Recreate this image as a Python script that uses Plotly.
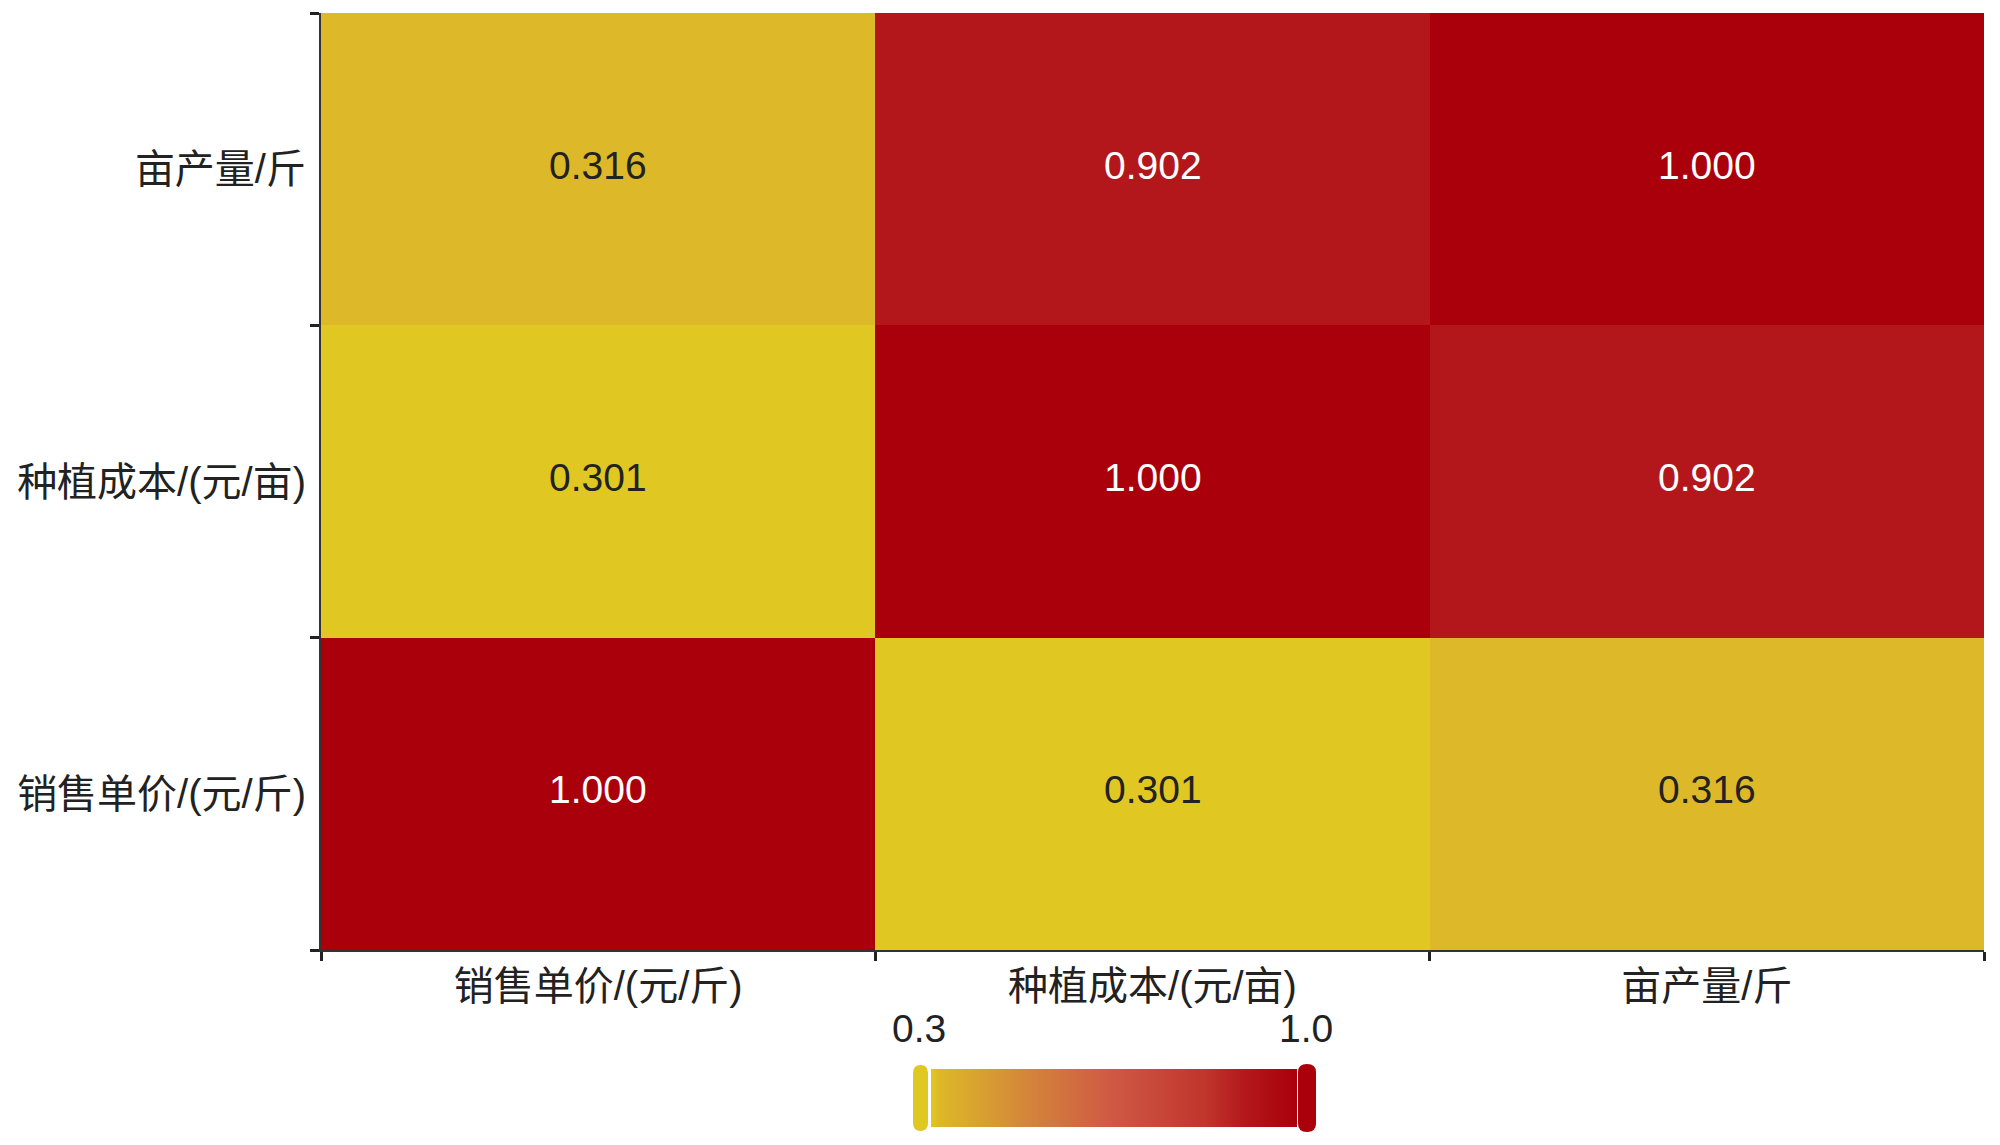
import plotly.graph_objects as go

# categories (x left->right, y bottom->top)
categories = ["销售单价/(元/斤)", "种植成本/(元/亩)", "亩产量/斤"]

# correlation values, one list per row (bottom row first)
row_price = [1.000, 0.301, 0.316]
row_cost = [0.301, 1.000, 0.902]
row_yield = [0.316, 0.902, 1.000]

z_min, z_max = 0.3, 1.0
range_labels = ["0.3", "1.0"]

FONT = "Liberation Sans, Arial, Noto Sans CJK SC"
W, H = 2000, 1145
OFF = 8  # page body margin
L, R, T, B = 313, 24, 5, 203
PW, PH = W - L - R, H - T - B


def px_x(p):
    return (p - OFF - L) / PW


def px_y(p):
    return (H - B - (p - OFF)) / PH


colorscale = [
    [0.0, "#E0C822"],
    [0.023, "#DDB828"],
    [0.25, "#D4883A"],
    [0.5, "#CF5844"],
    [0.75, "#C0352C"],
    [0.86, "#B3171C"],
    [1.0, "#AA000B"],
]

z = [row_price, row_cost, row_yield]

fig = go.Figure()

fig.add_trace(
    go.Heatmap(
        x=categories,
        y=categories,
        z=z,
        zmin=z_min,
        zmax=z_max,
        colorscale=colorscale,
        hoverinfo="skip",
        colorbar=dict(
            orientation="h",
            x=px_x(1114),
            xanchor="center",
            y=px_y(1069),
            yanchor="top",
            len=366 / PW,
            lenmode="fraction",
            thickness=58,
            outlinewidth=0,
            xpad=0,
            ypad=0,
            ticks="",
            showticklabels=False,
        ),
    )
)

# cell value labels
for yi, row in enumerate(z):
    for xi, val in enumerate(row):
        fig.add_annotation(
            x=categories[xi], y=categories[yi], yshift=4,
            text=f"{val:.3f}", showarrow=False,
            font=dict(family=FONT, size=39,
                      color="white" if val > 0.6 else "#222"),
        )


# slider handles at both ends of the colour bar
def handle(x0, x1, y0, y1, color):
    xa, xb = px_x(x0), px_x(x1)
    ya, yb = px_y(y0), px_y(y1)
    r = (yb - ya) * 0.12
    path = (
        f"M {xa},{ya + r} Q {xa},{ya} {(xa + xb) / 2},{ya} Q {xb},{ya} {xb},{ya + r} "
        f"L {xb},{yb - r} Q {xb},{yb} {(xa + xb) / 2},{yb} Q {xa},{yb} {xa},{yb - r} Z"
    )
    return dict(type="path", xref="paper", yref="paper", path=path,
                fillcolor=color, line=dict(width=0))


fig.add_shape(handle(913, 928, 1065, 1131, "#E0C822"))
fig.add_shape(handle(1298, 1316, 1064, 1132, "#AA000B"))

for label, xp in zip(range_labels, [919, 1306]):
    fig.add_annotation(
        x=px_x(xp), y=px_y(1028), xref="paper", yref="paper",
        xanchor="center", yanchor="middle",
        text=label, showarrow=False,
        font=dict(family=FONT, size=39, color="#222"),
    )

axis_style = dict(
    type="category",
    tickson="boundaries",
    ticks="outside",
    ticklen=9,
    tickwidth=3,
    tickcolor="#222",
    showline=True,
    linecolor="#333",
    linewidth=2,
    showgrid=False,
    zeroline=False,
    automargin=False,
    tickfont=dict(family=FONT, size=40, color="#222"),
)

fig.update_xaxes(**axis_style, ticklabelstandoff=0)
fig.update_yaxes(**axis_style, ticklabelstandoff=5)

fig.update_layout(
    width=W,
    height=H,
    margin=dict(l=L, r=R, t=T, b=B, autoexpand=False),
    paper_bgcolor="white",
    plot_bgcolor="white",
    font=dict(family=FONT),
)

fig.write_html("out.html")
